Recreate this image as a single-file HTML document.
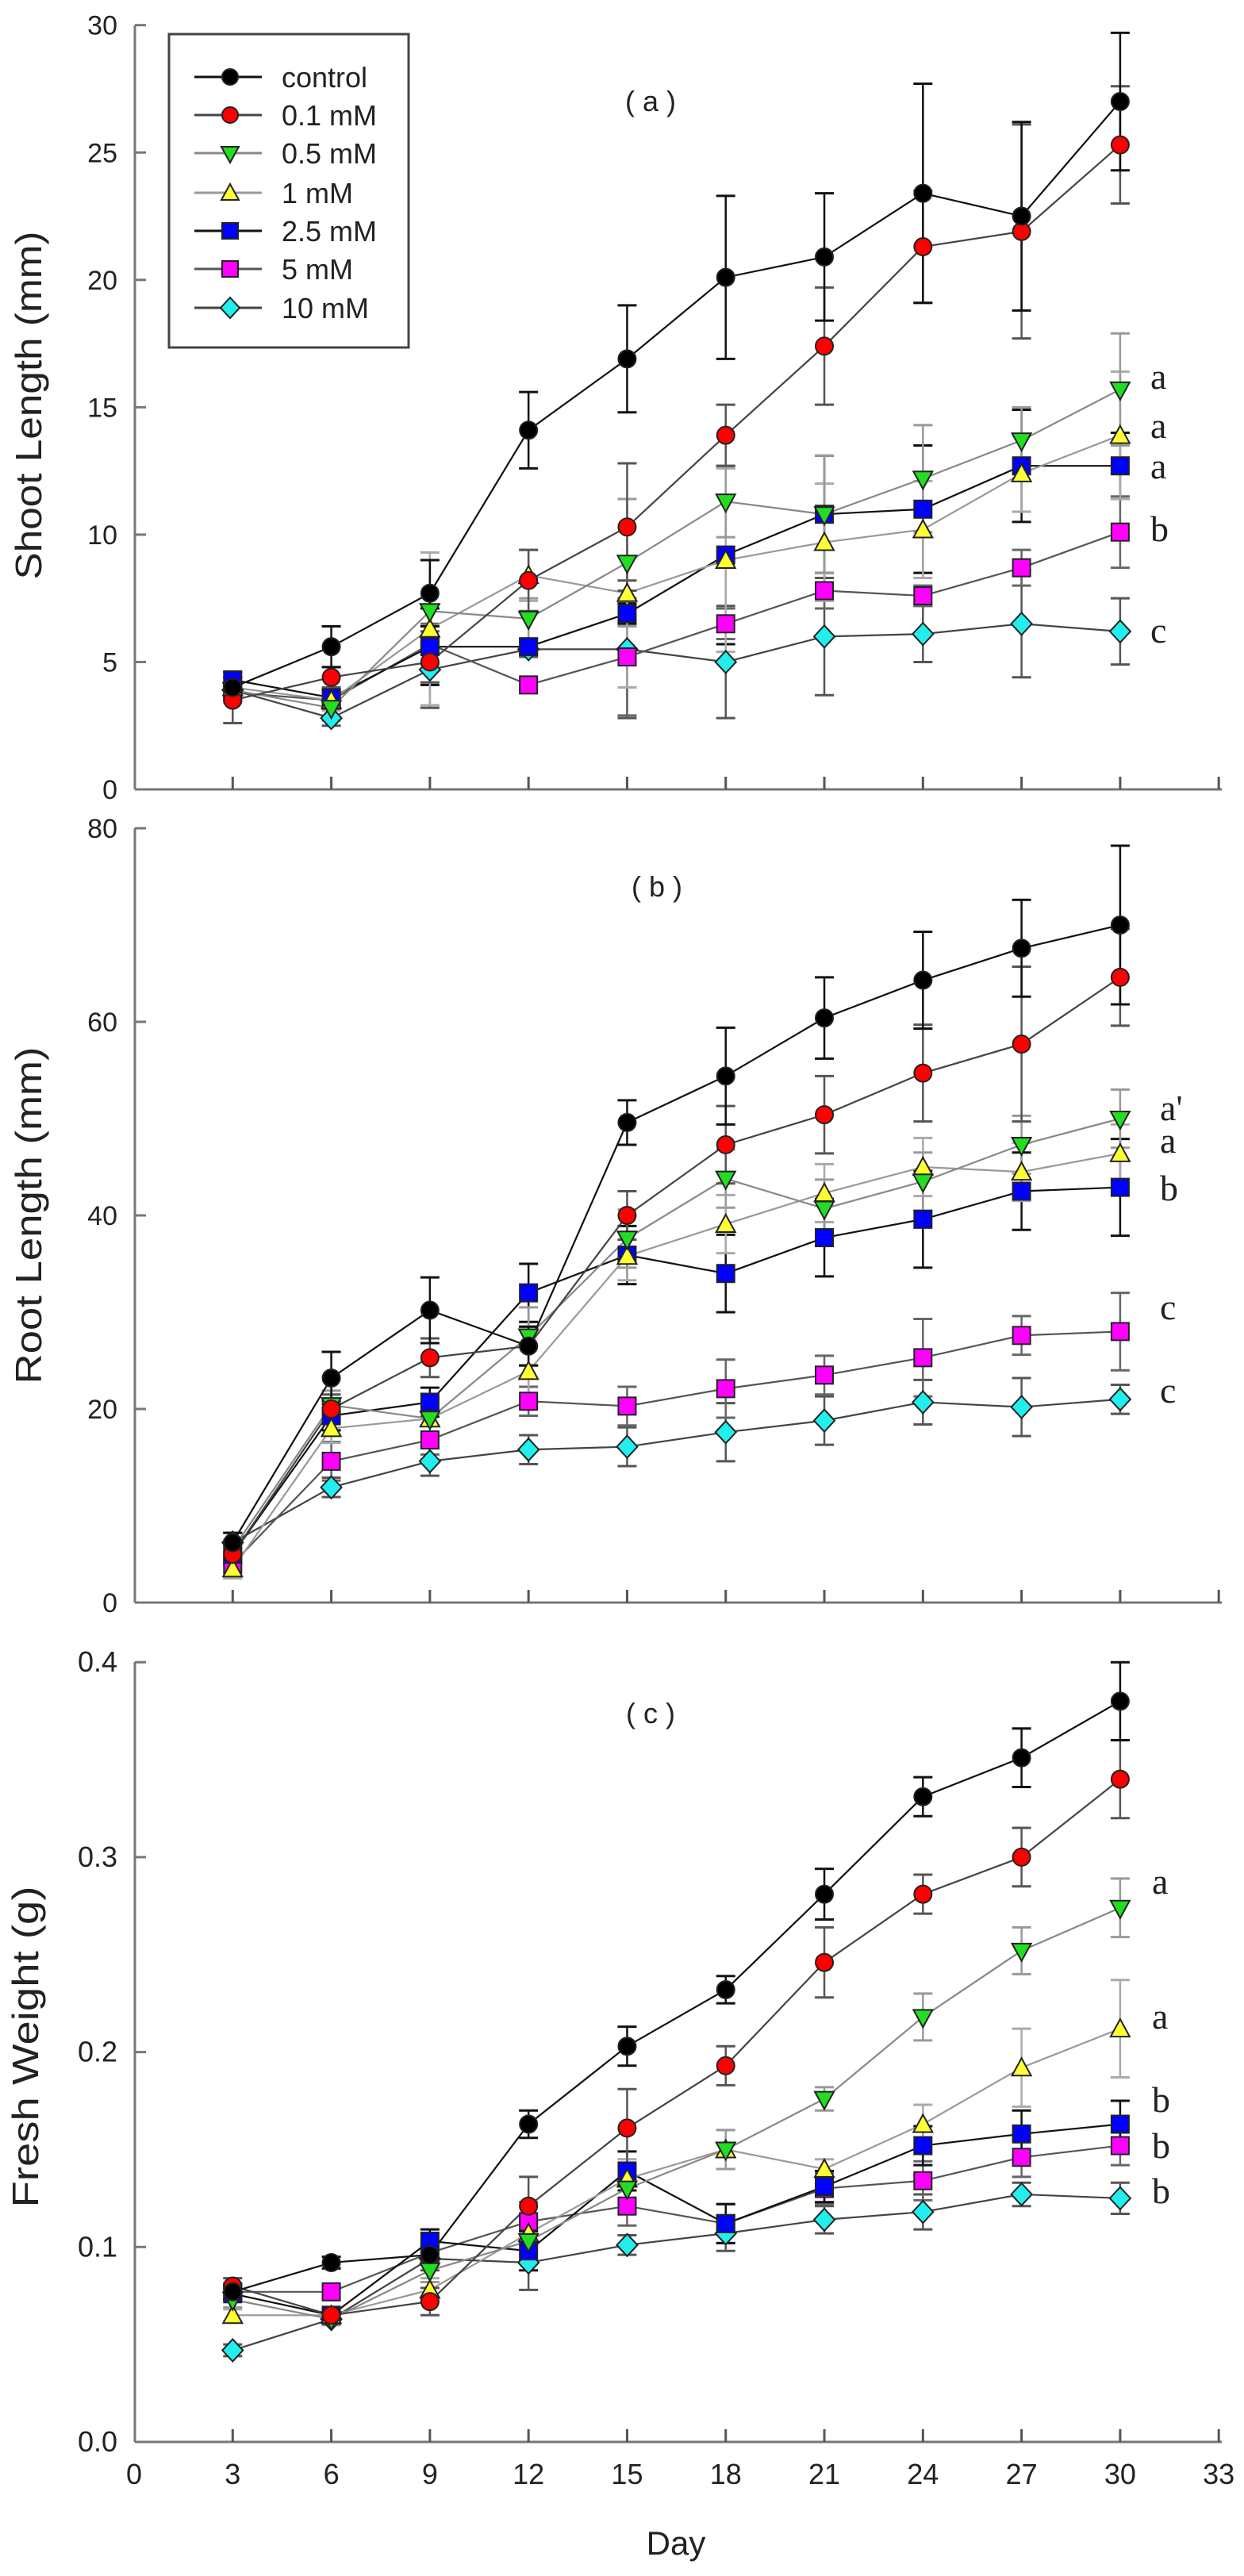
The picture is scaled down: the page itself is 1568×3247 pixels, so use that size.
<!DOCTYPE html>
<html><head><meta charset="utf-8">
<style>
html,body{margin:0;padding:0;background:#fff;}
svg{display:block;}
text{font-family:"Liberation Sans",Arial,sans-serif;fill:#222;}
g.serif text{font-family:"Liberation Serif","Times New Roman",serif;}
</style></head>
<body>
<svg id="s" xmlns="http://www.w3.org/2000/svg" width="1568" height="3247" viewBox="0 0 1568 3247">
<rect width="1568" height="3247" fill="#fff"/>
<rect x="213" y="43" width="302" height="395" fill="#fff" stroke="#444" stroke-width="3"/>
<g font-size="36">
<text x="355" y="110">control</text>
<text x="355" y="158">0.1 mM</text>
<text x="355" y="206">0.5 mM</text>
<text x="355" y="256">1 mM</text>
<text x="355" y="304">2.5 mM</text>
<text x="355" y="352">5 mM</text>
<text x="355" y="401">10 mM</text>
</g>
<text x="820" y="140" font-size="36" text-anchor="middle">( a )</text>
<text x="828" y="1130" font-size="36" text-anchor="middle">( b )</text>
<text x="820" y="2172" font-size="36" text-anchor="middle">( c )</text>
<text transform="translate(52,511) rotate(-90)" font-size="46" text-anchor="middle" textLength="439" lengthAdjust="spacingAndGlyphs">Shoot Length (mm)</text>
<text transform="translate(52,1532) rotate(-90)" font-size="46" text-anchor="middle" textLength="425" lengthAdjust="spacingAndGlyphs">Root Length (mm)</text>
<text transform="translate(48,2580) rotate(-90)" font-size="46" text-anchor="middle" textLength="405" lengthAdjust="spacingAndGlyphs">Fresh Weight (g)</text>
<text x="852" y="3220" font-size="42" text-anchor="middle">Day</text>
<g class="serif" font-size="46">
<text x="1450" y="490">a</text>
<text x="1450" y="552">a</text>
<text x="1450" y="603">a</text>
<text x="1450" y="682">b</text>
<text x="1450" y="810">c</text>
<text x="1462" y="1412">a'</text>
<text x="1462" y="1453">a</text>
<text x="1462" y="1513">b</text>
<text x="1462" y="1663">c</text>
<text x="1462" y="1768">c</text>
<text x="1452" y="2387">a</text>
<text x="1452" y="2557">a</text>
<text x="1452" y="2662">b</text>
<text x="1452" y="2720">b</text>
<text x="1452" y="2777">b</text>
</g>
<g id="plot"></g>
</svg>
<script>
(function(){
var NS="http://www.w3.org/2000/svg";
var g=document.getElementById('plot');
function el(n,a,p){var e=document.createElementNS(NS,n);for(var k in a)e.setAttribute(k,a[k]);(p||g).appendChild(e);return e;}
function X(d){return 169+41.43*d;}
var days=[3,6,9,12,15,18,21,24,27,30];
var fills=['#000','#ff0000','#22dd22','#ffff33','#0000ff','#ff00ff','#22eeee'];
var lineC=['#111','#444','#888','#999','#111','#555','#444'];
var errC=['#111','#555','#999','#aaa','#111','#666','#555'];
var shapes=['circle','circle','tdown','tup','square','square','diamond'];
function marker(sh,x,y,f,r){
 r=r||11;
 if(sh=='circle')el('circle',{cx:x,cy:y,r:r,fill:f,stroke:'#222','stroke-width':2});
 else if(sh=='square')el('rect',{x:x-r,y:y-r,width:2*r,height:2*r,fill:f,stroke:'#222','stroke-width':2});
 else if(sh=='tdown')el('polygon',{points:(x-r-1)+','+(y-r+2)+' '+(x+r+1)+','+(y-r+2)+' '+x+','+(y+r+2),fill:f,stroke:'#222','stroke-width':2});
 else if(sh=='tup')el('polygon',{points:(x-r-1)+','+(y+r-1)+' '+(x+r+1)+','+(y+r-1)+' '+x+','+(y-r-1),fill:f,stroke:'#222','stroke-width':2});
 else el('polygon',{points:x+','+(y-r-3)+' '+(x+r+2)+','+y+' '+x+','+(y+r+3)+' '+(x-r-2)+','+y,fill:f,stroke:'#222','stroke-width':2});
}
var ly=[97,145,193,243,291,339,388];
for(var i=0;i<7;i++){el('line',{x1:245,y1:ly[i],x2:330,y2:ly[i],stroke:lineC[i],'stroke-width':3});marker(shapes[i],290,ly[i],fills[i],10);}

var panels=[
{top:32,bot:995,scale:32.11,ticks:[0,5,10,15,20,25,30],lab:function(v){return ''+v;},fs:34,
 data:[[4.0,5.6,7.7,14.1,16.9,20.1,20.9,23.4,22.5,27.0],
 [3.5,4.4,5.0,8.2,10.3,13.9,17.4,21.3,21.9,25.3],
 [3.9,3.2,7.0,6.7,8.9,11.3,10.8,12.2,13.7,15.7],
 [4.0,3.5,6.3,8.4,7.7,9.0,9.7,10.2,12.4,13.9],
 [4.3,3.6,5.6,5.6,6.9,9.2,10.8,11.0,12.7,12.7],
 [3.8,3.5,5.7,4.1,5.2,6.5,7.8,7.6,8.7,10.1],
 [3.9,2.8,4.7,5.5,5.5,5.0,6.0,6.1,6.5,6.2]],
 err:[[.4,.8,1.3,1.5,2.1,3.2,2.5,4.3,3.7,2.7],
 [.9,.4,.8,1.2,2.5,1.2,2.3,2.2,4.2,2.3],
 [.5,.5,2,.8,2.5,1.4,2.3,2.1,1.3,2.2],
 [.4,.4,3,1,3.7,3.6,2.3,1.9,1.5,2.5],
 [.3,.3,1.5,.3,.4,3.5,2.3,2.5,2.2,1.3],
 [.3,.3,.8,.2,2.3,.6,.7,.4,.7,1.4],
 [.3,.3,1.5,.3,2.7,2.2,2.3,1.1,2.1,1.3]]},
{top:1044,bot:2020,scale:12.2,ticks:[0,20,40,60,80],lab:function(v){return ''+v;},fs:34,
 data:[[6.2,23.2,30.2,26.5,49.6,54.4,60.4,64.3,67.6,70.0],
 [5.0,20.0,25.3,26.5,40.0,47.3,50.4,54.7,57.7,64.6],
 [5.5,20.4,19.0,27.5,37.6,43.8,40.7,43.5,47.3,50.0],
 [3.5,18.0,19.0,23.9,35.8,39.1,42.3,45.0,44.5,46.4],
 [5.0,19.3,20.7,32.0,35.9,34.0,37.7,39.6,42.5,42.9],
 [4.0,14.6,16.8,20.8,20.3,22.1,23.5,25.3,27.6,28.0],
 [6.2,11.9,14.6,15.8,16.1,17.6,18.8,20.7,20.2,21.0]],
 err:[[1,2.7,3.4,2,2.3,5,4.2,5,5,8.2],
 [1,1.5,2,2,2.5,4,4,5,8,5],
 [1,1.5,2,3,3,3,3,3,3,3],
 [1,1.5,1.5,2.5,2.5,3,3,3,3,3],
 [1,1.5,1.5,3,3,4,4,5,4,5],
 [1,2,1.5,1.5,2,3,2,4,2,4],
 [1,1,1.5,1.5,2,3,2.5,2.3,3,1.5]]},
{top:2095,bot:3078,scale:2457,ticks:[0,.1,.2,.3,.4],lab:function(v){return v.toFixed(1);},fs:36,
 data:[[.077,.092,.096,.163,.203,.232,.281,.331,.351,.380],
 [.080,.065,.072,.121,.161,.193,.246,.281,.300,.340],
 [.073,.063,.088,.103,.130,.150,.176,.218,.252,.274],
 [.065,.065,.078,.107,.135,.150,.140,.163,.192,.212],
 [.076,.065,.103,.098,.139,.112,.131,.152,.158,.163],
 [.077,.077,.097,.113,.121,.112,.130,.134,.146,.152],
 [.047,.063,.094,.092,.101,.107,.114,.118,.127,.125]],
 err:[[.004,.003,.005,.007,.01,.007,.013,.01,.015,.02],
 [.004,.004,.007,.015,.02,.01,.018,.01,.015,.02],
 [.004,.003,.006,.01,.01,.01,.006,.012,.012,.015],
 [.003,.003,.006,.008,.01,.01,.005,.01,.02,.025],
 [.003,.003,.006,.01,.01,.01,.008,.01,.012,.012],
 [.003,.003,.006,.01,.01,.01,.008,.01,.01,.01],
 [.003,.003,.006,.014,.005,.009,.007,.009,.006,.008]]}
];
panels.forEach(function(P,pi){
 function Y(v){return P.bot-P.scale*v;}
 el('line',{x1:170,y1:P.top,x2:170,y2:P.bot,stroke:'#777','stroke-width':3});
 el('line',{x1:170,y1:P.bot,x2:1540,y2:P.bot,stroke:'#777','stroke-width':3});
 P.ticks.forEach(function(t){var y=Y(t);el('line',{x1:170,y1:y,x2:184,y2:y,stroke:'#777','stroke-width':3});
  var tx=el('text',{x:148,y:y+12,'font-size':P.fs,'text-anchor':'end'});tx.textContent=P.lab(t);});
 for(var d=3;d<=33;d+=3){el('line',{x1:X(d),y1:P.bot,x2:X(d),y2:P.bot-16,stroke:'#555','stroke-width':3});}
 if(pi==2){for(var d=0;d<=33;d+=3){var t=el('text',{x:X(d),y:3131,'font-size':36,'text-anchor':'middle'});t.textContent=''+d;}}
 for(var s=6;s>=0;s--){
  var pts=P.data[s].map(function(v,i){return X(days[i])+','+Y(v);}).join(' ');
  el('polyline',{points:pts,fill:'none',stroke:lineC[s],'stroke-width':2.2});
  P.data[s].forEach(function(v,i){var x=X(days[i]),e=P.err[s][i];
   el('line',{x1:x,y1:Y(v+e),x2:x,y2:Y(v-e),stroke:errC[s],'stroke-width':2.5});
   el('line',{x1:x-12,y1:Y(v+e),x2:x+12,y2:Y(v+e),stroke:errC[s],'stroke-width':3});
   el('line',{x1:x-12,y1:Y(v-e),x2:x+12,y2:Y(v-e),stroke:errC[s],'stroke-width':3});});
 }
 for(var s=6;s>=0;s--){P.data[s].forEach(function(v,i){marker(shapes[s],X(days[i]),Y(v),fills[s],11);});}
});
})();
</script>
</body></html>
